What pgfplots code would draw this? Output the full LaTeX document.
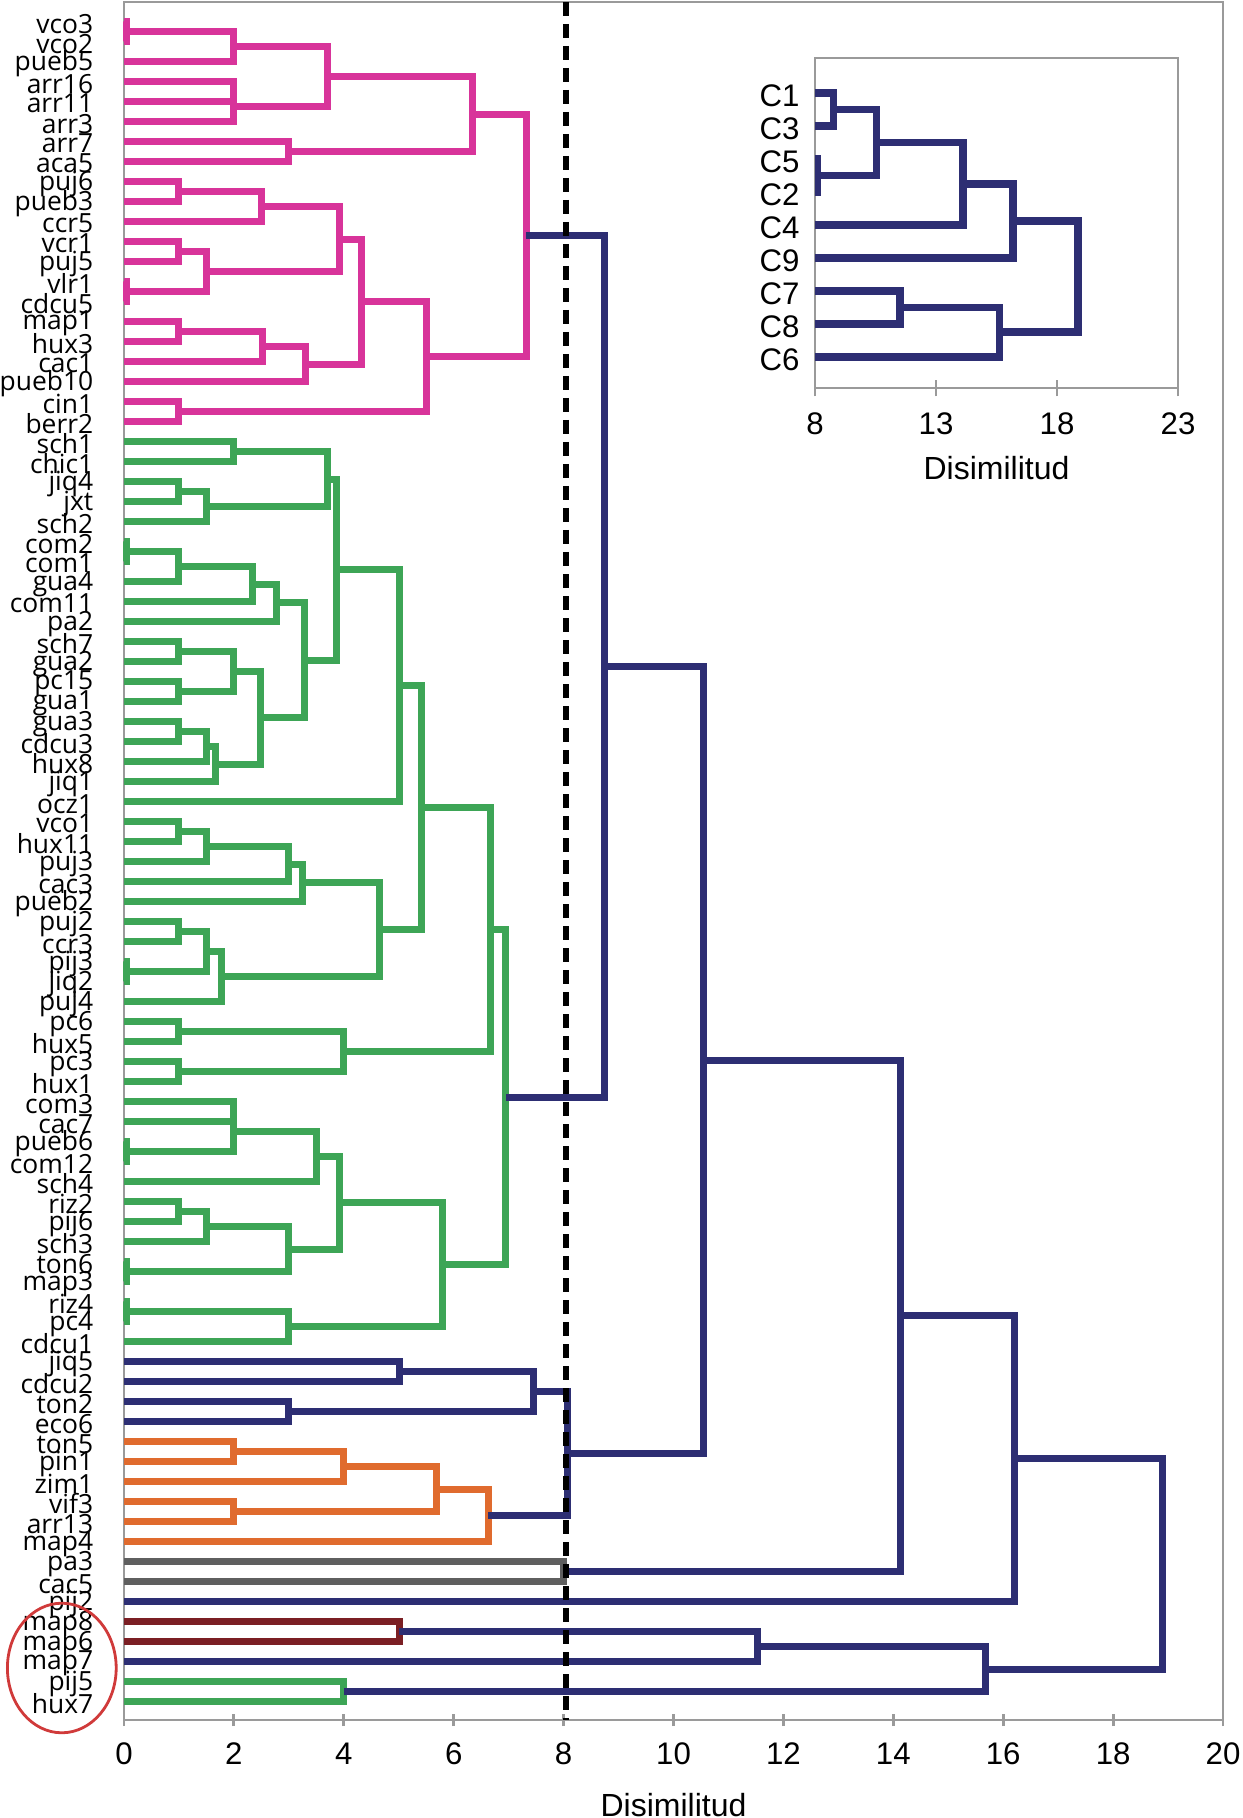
\documentclass[border=0pt]{standalone}
\usepackage{pgfplots}
\pgfplotsset{compat=1.18}
\usepackage{fontspec}
\setmainfont{Liberation Sans}
\newfontfamily\leaffont{Open Sans}
\definecolor{pk}{HTML}{D8349A}
\definecolor{gr}{HTML}{3DA556}
\definecolor{bl}{HTML}{2D2E73}
\definecolor{orc}{HTML}{E06B2E}
\definecolor{gyc}{HTML}{5F5F5F}
\definecolor{drc}{HTML}{7B1F24}
\definecolor{axgray}{HTML}{9A9A9A}
\definecolor{redc}{HTML}{D03A3A}
\pgfplotsset{
  pkl/.style={draw=pk, line width=1.75pt, line join=miter, mark=none},
  grl/.style={draw=gr, line width=1.75pt, line join=miter, mark=none},
  bll/.style={draw=bl, line width=1.75pt, line join=miter, mark=none},
  orl/.style={draw=orc, line width=1.75pt, line join=miter, mark=none},
  gyl/.style={draw=gyc, line width=1.75pt, line join=miter, mark=none},
  drl/.style={draw=drc, line width=1.75pt, line join=miter, mark=none},
}
\begin{document}
\begin{tikzpicture}
\useasboundingbox (-31pt,-24.5pt) rectangle (279.5pt,430pt);
\begin{axis}[
  name=main, at={(0pt,0pt)}, anchor=south west,
  scale only axis, width=274.75pt, height=429.5pt,
  xmin=0, xmax=20, ymin=-0.985, ymax=84.915, y dir=reverse,
  axis line style={draw=axgray, line width=0.7pt},
  xtick={0,2,...,20}, xtick pos=bottom, ytick pos=left,
  tick align=center, major tick length=3pt,
  xtick style={draw=axgray, line width=0.7pt},
  ytick style={draw=none},
  /pgf/number format/assume math mode=true,
  xticklabel style={font=\fontsize{7.8}{8}\selectfont, inner sep=0pt, yshift=-3.95pt},
  ytick={0,...,84},
  yticklabels={vco3,vco2,pueb5,arr16,arr11,arr3,arr7,aca5,puj6,pueb3,ccr5,vcr1,puj5,vlr1,cdcu5,map1,hux3,cac1,pueb10,cin1,berr2,sch1,chic1,jiq4,jxt,sch2,com2,com1,gua4,com11,pa2,sch7,gua2,pc15,gua1,gua3,cdcu3,hux8,jiq1,ocz1,vco1,hux11,puj3,cac3,pueb2,puj2,ccr3,pij3,jiq2,puj4,pc6,hux5,pc3,hux1,com3,cac7,pueb6,com12,sch4,riz2,pij6,sch3,ton6,map3,riz4,pc4,cdcu1,jiq5,cdcu2,ton2,eco6,ton5,pin1,zim1,vif3,arr13,map4,pa3,cac5,pij2,map8,map6,map7,pij5,hux7},
  yticklabel style={font=\leaffont\fontsize{6.6}{6.6}\selectfont, anchor=east, inner sep=0pt, xshift=-6pt, yshift=-0.5pt},
  xlabel={Disimilitud},
  xlabel style={font=\fontsize{8}{9.6}\selectfont, at={(axis description cs:0.5,0)}, anchor=center, yshift=-21.25pt, inner sep=0pt},
  clip=false,
]
% ---- pink cluster
\addplot[pkl] coordinates {(0,0) (0.05,0) (0.05,1) (0,1)};
\addplot[pkl] coordinates {(0.05,0.5) (2,0.5) (2,2) (0,2)};
\addplot[pkl] coordinates {(0,3) (2,3) (2,4) (0,4)};
\addplot[pkl] coordinates {(2,3.5) (2,5) (0,5)};
\addplot[pkl] coordinates {(2,1.25) (3.71,1.25) (3.71,4.25) (2,4.25)};
\addplot[pkl] coordinates {(0,6) (3,6) (3,7) (0,7)};
\addplot[pkl] coordinates {(3.71,2.75) (6.34,2.75) (6.34,6.5) (3,6.5)};
\addplot[pkl] coordinates {(0,8) (1,8) (1,9) (0,9)};
\addplot[pkl] coordinates {(1,8.5) (2.5,8.5) (2.5,10) (0,10)};
\addplot[pkl] coordinates {(0,11) (1,11) (1,12) (0,12)};
\addplot[pkl] coordinates {(0,13) (0.05,13) (0.05,14) (0,14)};
\addplot[pkl] coordinates {(1,11.5) (1.5,11.5) (1.5,13.5) (0.05,13.5)};
\addplot[pkl] coordinates {(2.5,9.25) (3.93,9.25) (3.93,12.5) (1.5,12.5)};
\addplot[pkl] coordinates {(0,15) (1,15) (1,16) (0,16)};
\addplot[pkl] coordinates {(1,15.5) (2.52,15.5) (2.52,17) (0,17)};
\addplot[pkl] coordinates {(2.52,16.25) (3.31,16.25) (3.31,18) (0,18)};
\addplot[pkl] coordinates {(3.93,10.875) (4.32,10.875) (4.32,17.125) (3.31,17.125)};
\addplot[pkl] coordinates {(0,19) (1,19) (1,20) (0,20)};
\addplot[pkl] coordinates {(4.32,14) (5.51,14) (5.51,19.5) (1,19.5)};
\addplot[pkl] coordinates {(6.34,4.625) (7.32,4.625) (7.32,16.75) (5.51,16.75)};
% ---- green cluster
\addplot[grl] coordinates {(0,21) (2,21) (2,22) (0,22)};
\addplot[grl] coordinates {(0,23) (1,23) (1,24) (0,24)};
\addplot[grl] coordinates {(1,23.5) (1.5,23.5) (1.5,25) (0,25)};
\addplot[grl] coordinates {(2,21.5) (3.71,21.5) (3.71,24.25) (1.5,24.25)};
\addplot[grl] coordinates {(0,26) (0.05,26) (0.05,27) (0,27)};
\addplot[grl] coordinates {(0.05,26.5) (1,26.5) (1,28) (0,28)};
\addplot[grl] coordinates {(1,27.25) (2.34,27.25) (2.34,29) (0,29)};
\addplot[grl] coordinates {(2.34,28.125) (2.77,28.125) (2.77,30) (0,30)};
\addplot[grl] coordinates {(0,31) (1,31) (1,32) (0,32)};
\addplot[grl] coordinates {(0,33) (1,33) (1,34) (0,34)};
\addplot[grl] coordinates {(1,31.5) (2,31.5) (2,33.5) (1,33.5)};
\addplot[grl] coordinates {(0,35) (1,35) (1,36) (0,36)};
\addplot[grl] coordinates {(1,35.5) (1.5,35.5) (1.5,37) (0,37)};
\addplot[grl] coordinates {(1.5,36.25) (1.66,36.25) (1.66,38) (0,38)};
\addplot[grl] coordinates {(2,32.5) (2.49,32.5) (2.49,37.125) (1.66,37.125)};
\addplot[grl] coordinates {(2.77,29.06) (3.28,29.06) (3.28,34.81) (2.49,34.81)};
\addplot[grl] coordinates {(3.71,22.875) (3.86,22.875) (3.86,31.94) (3.28,31.94)};
\addplot[grl] coordinates {(3.86,27.4) (5.01,27.4) (5.01,39) (0,39)};
\addplot[grl] coordinates {(0,40) (1,40) (1,41) (0,41)};
\addplot[grl] coordinates {(1,40.5) (1.5,40.5) (1.5,42) (0,42)};
\addplot[grl] coordinates {(1.5,41.25) (3,41.25) (3,43) (0,43)};
\addplot[grl] coordinates {(3,42.125) (3.24,42.125) (3.24,44) (0,44)};
\addplot[grl] coordinates {(0,45) (1,45) (1,46) (0,46)};
\addplot[grl] coordinates {(0,47) (0.05,47) (0.05,48) (0,48)};
\addplot[grl] coordinates {(1,45.5) (1.5,45.5) (1.5,47.5) (0.05,47.5)};
\addplot[grl] coordinates {(1.5,46.5) (1.77,46.5) (1.77,49) (0,49)};
\addplot[grl] coordinates {(3.24,43.06) (4.65,43.06) (4.65,47.75) (1.77,47.75)};
\addplot[grl] coordinates {(5.01,33.2) (5.41,33.2) (5.41,45.4) (4.65,45.4)};
\addplot[grl] coordinates {(0,50) (1,50) (1,51) (0,51)};
\addplot[grl] coordinates {(0,52) (1,52) (1,53) (0,53)};
\addplot[grl] coordinates {(1,50.5) (4,50.5) (4,52.5) (1,52.5)};
\addplot[grl] coordinates {(5.41,39.3) (6.67,39.3) (6.67,51.5) (4,51.5)};
\addplot[grl] coordinates {(0,54) (2,54) (2,55) (0,55)};
\addplot[grl] coordinates {(0,56) (0.05,56) (0.05,57) (0,57)};
\addplot[grl] coordinates {(2,54.5) (2,56.5) (0.05,56.5)};
\addplot[grl] coordinates {(2,55.5) (3.5,55.5) (3.5,58) (0,58)};
\addplot[grl] coordinates {(0,59) (1,59) (1,60) (0,60)};
\addplot[grl] coordinates {(1,59.5) (1.5,59.5) (1.5,61) (0,61)};
\addplot[grl] coordinates {(0,62) (0.05,62) (0.05,63) (0,63)};
\addplot[grl] coordinates {(1.5,60.25) (3,60.25) (3,62.5) (0.05,62.5)};
\addplot[grl] coordinates {(3.5,56.75) (3.93,56.75) (3.93,61.375) (3,61.375)};
\addplot[grl] coordinates {(0,64) (0.05,64) (0.05,65) (0,65)};
\addplot[grl] coordinates {(0.05,64.5) (3,64.5) (3,66) (0,66)};
\addplot[grl] coordinates {(3.93,59.06) (5.8,59.06) (5.8,65.25) (3,65.25)};
\addplot[grl] coordinates {(6.67,45.4) (6.95,45.4) (6.95,62.16) (5.8,62.16)};
% ---- small clusters
\addplot[bll] coordinates {(0,67) (5.01,67) (5.01,68) (0,68)};
\addplot[bll] coordinates {(0,69) (3,69) (3,70) (0,70)};
\addplot[bll] coordinates {(5.01,67.5) (7.46,67.5) (7.46,69.5) (3,69.5)};
\addplot[orl] coordinates {(0,71) (2,71) (2,72) (0,72)};
\addplot[orl] coordinates {(2,71.5) (4,71.5) (4,73) (0,73)};
\addplot[orl] coordinates {(0,74) (2,74) (2,75) (0,75)};
\addplot[orl] coordinates {(4,72.25) (5.69,72.25) (5.69,74.5) (2,74.5)};
\addplot[orl] coordinates {(5.69,73.375) (6.63,73.375) (6.63,76) (0,76)};
\addplot[gyl] coordinates {(0,77) (8,77) (8,78) (0,78)};
\addplot[drl] coordinates {(0,80) (5.01,80) (5.01,81) (0,81)};
\addplot[grl] coordinates {(0,83) (4,83) (4,84) (0,84)};
% ---- blue upper levels
\addplot[bll] coordinates {(7.46,68.5) (8.08,68.5) (8.08,74.69) (6.63,74.69)};
\addplot[bll] coordinates {(5.01,80.5) (11.52,80.5) (11.52,82) (0,82)};
\addplot[bll] coordinates {(11.52,81.25) (15.67,81.25) (15.67,83.5) (4,83.5)};
\addplot[bll] coordinates {(7.32,10.69) (8.74,10.69) (8.74,53.78) (6.95,53.78)};
\addplot[bll] coordinates {(8.74,32.235) (10.55,32.235) (10.55,71.6) (8.08,71.6)};
\addplot[bll] coordinates {(10.55,51.92) (14.13,51.92) (14.13,77.5) (8,77.5)};
\addplot[bll] coordinates {(14.13,64.71) (16.2,64.71) (16.2,79) (0,79)};
\addplot[bll] coordinates {(16.2,71.86) (18.89,71.86) (18.89,82.375) (15.67,82.375)};
% ---- cut line
\addplot[black, line width=1.4pt, dash pattern=on 3.6pt off 1.9pt, mark=none] coordinates {(8.04,-0.985) (8.04,84.915)};
\end{axis}
\draw[redc, line width=0.7pt] (-15.55pt,13pt) ellipse [x radius=13.6pt, y radius=16.2pt];
% ---- inset
\begin{axis}[
  at={(172.75pt,415.5pt)}, anchor=north west,
  scale only axis, width=90.75pt, height=82.5pt,
  xmin=8, xmax=23, ymin=-0.06, ymax=9.94, y dir=reverse,
  axis background/.style={fill=white},
  axis line style={draw=axgray, line width=0.7pt},
  xtick={8,13,18,23}, xtick pos=bottom, ytick pos=left,
  tick align=center, major tick length=4.2pt,
  xtick style={draw=axgray, line width=0.7pt},
  ytick style={draw=none},
  /pgf/number format/assume math mode=true,
  xticklabel style={font=\fontsize{7.8}{8}\selectfont, inner sep=0pt, yshift=-3.95pt},
  ytick={1,...,9},
  yticklabels={C1,C3,C5,C2,C4,C9,C7,C8,C6},
  yticklabel style={font=\fontsize{7.8}{8}\selectfont, anchor=east, inner sep=0pt, xshift=-1.6pt, yshift=-0.8pt},
  xlabel={Disimilitud},
  xlabel style={font=\fontsize{8}{9.6}\selectfont, at={(axis description cs:0.5,0)}, anchor=center, yshift=-20pt, inner sep=0pt},
]
\addplot[bll, line width=1.9pt] coordinates {(8,1) (8.76,1) (8.76,2) (8,2)};
\addplot[bll, line width=1.9pt] coordinates {(8,3) (8.1,3) (8.1,4) (8,4)};
\addplot[bll, line width=1.9pt] coordinates {(8.76,1.5) (10.54,1.5) (10.54,3.5) (8.1,3.5)};
\addplot[bll, line width=1.9pt] coordinates {(10.54,2.5) (14.12,2.5) (14.12,5) (8,5)};
\addplot[bll, line width=1.9pt] coordinates {(14.12,3.75) (16.18,3.75) (16.18,6) (8,6)};
\addplot[bll, line width=1.9pt] coordinates {(8,7) (11.5,7) (11.5,8) (8,8)};
\addplot[bll, line width=1.9pt] coordinates {(11.5,7.5) (15.63,7.5) (15.63,9) (8,9)};
\addplot[bll, line width=1.9pt] coordinates {(16.18,4.875) (18.87,4.875) (18.87,8.25) (15.63,8.25)};
\end{axis}
\end{tikzpicture}
\end{document}
